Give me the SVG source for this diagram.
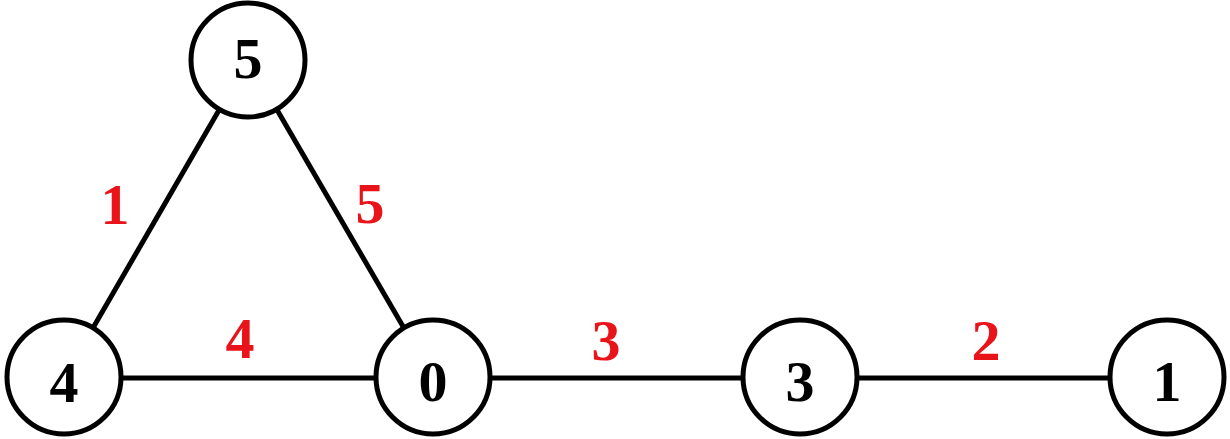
<svg xmlns="http://www.w3.org/2000/svg" width="1230" height="439" viewBox="0 0 1230 439">
<style>
.n circle{fill:#fff;stroke:#000;stroke-width:5}
.n text{font-family:"Liberation Serif",serif;font-weight:bold;font-size:58px;text-anchor:middle;fill:#000}
.e line{stroke:#000;stroke-width:5}
.w{font-family:"Liberation Serif",serif;font-weight:bold;font-size:58px;text-anchor:middle;fill:#e8141a}
</style>
<rect width="1230" height="439" fill="#fff"/>
<g id="edges" class="e">
<line x1="248" y1="60" x2="64" y2="378"/>
<line x1="248" y1="60" x2="433" y2="378"/>
<line x1="64" y1="378" x2="433" y2="378"/>
<line x1="433" y1="378" x2="800" y2="378"/>
<line x1="800" y1="378" x2="1167" y2="378"/>
</g>
<g id="weights">
<text class="w" x="115" y="224">1</text>
<text class="w" x="370" y="223">5</text>
<text class="w" x="240" y="358">4</text>
<text class="w" x="606" y="360">3</text>
<text class="w" x="986" y="360">2</text>
</g>
<g id="node5" class="n"><circle cx="248" cy="60" r="57"/><text x="248" y="78">5</text></g>
<g id="node4" class="n"><circle cx="64" cy="377" r="57"/><text x="64" y="402">4</text></g>
<g id="node0" class="n"><circle cx="433" cy="377" r="57"/><text x="433" y="401">0</text></g>
<g id="node3" class="n"><circle cx="800" cy="377" r="57"/><text x="800" y="401">3</text></g>
<g id="node1" class="n"><circle cx="1167" cy="377" r="57"/><text x="1167" y="401">1</text></g>
</svg>
